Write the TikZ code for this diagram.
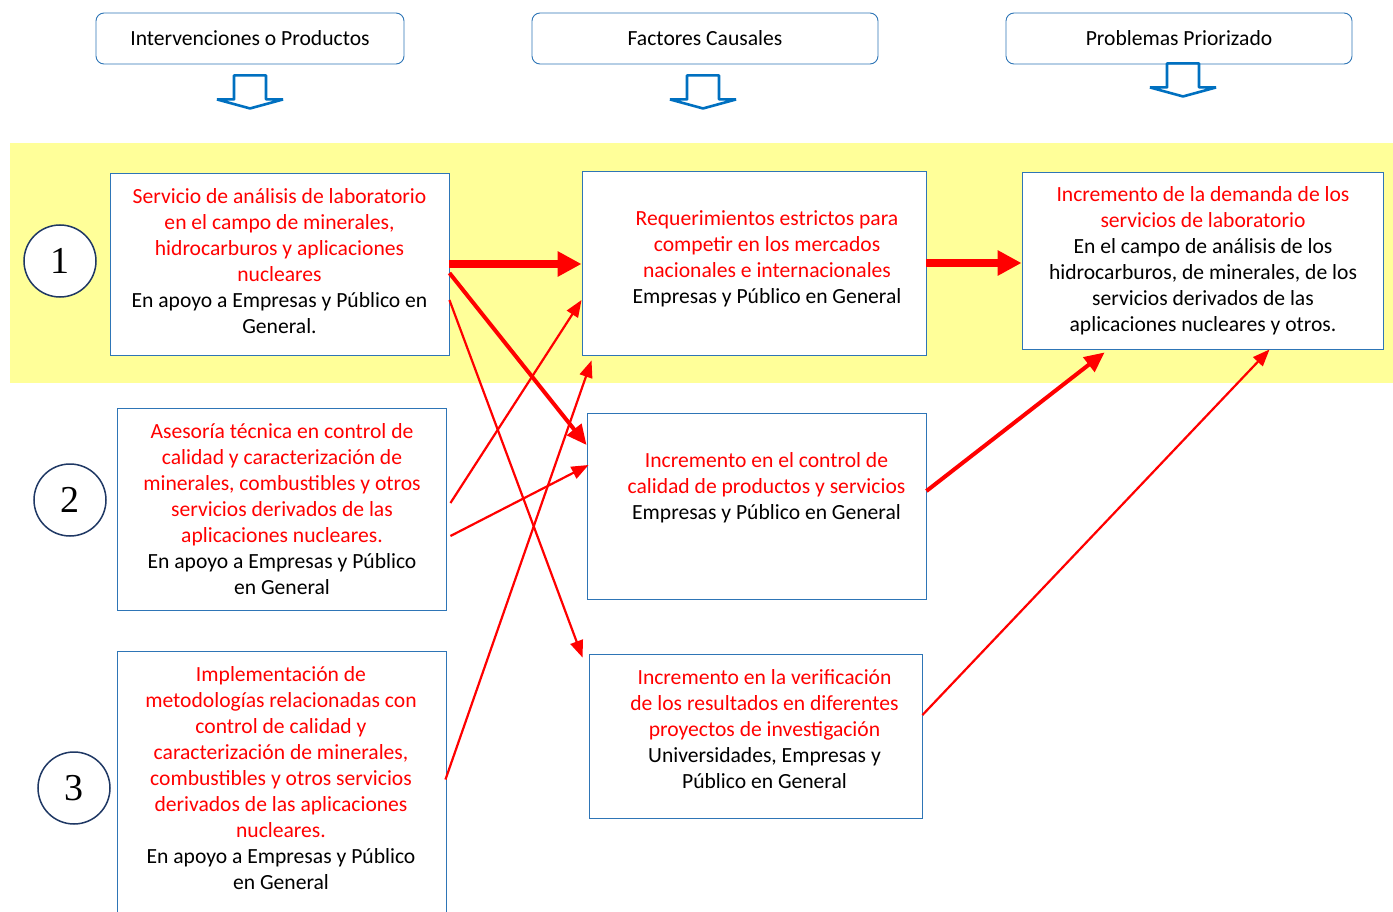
\documentclass[tikz,border=0pt]{standalone}
\usepackage{fontspec}
\setmainfont{Carlito}
\newfontfamily\numfont{Liberation Serif}
\usepackage{tikz}
\usetikzlibrary{calc,arrows.meta}
\definecolor{bandyellow}{RGB}{255,255,153}
\definecolor{boxblue}{RGB}{46,117,182}
\definecolor{arrowblue}{RGB}{0,112,192}
\definecolor{ringblue}{RGB}{31,56,100}
\newcommand\bk{\color{black}}

\begin{document}
\begin{tikzpicture}[x=1pt,y=-1pt,
    headbox/.style={draw=boxblue,line width=0.9pt,rounded corners=8pt,fill=white,
      minimum width=#1,minimum height=51pt,font=\fontsize{21.6}{24}\selectfont},
    prodbox/.style={draw=boxblue,line width=0.9pt,fill=white,inner sep=0pt},
    txt/.style={align=center,text=red,font=\fontsize{21.6}{26}\selectfont},
    num/.style={circle,draw=ringblue,line width=1.5pt,fill=white,minimum size=72pt,
      font=\numfont\fontsize{38}{38}\selectfont},
    fat/.style={red,line width=8pt,-{Triangle[length=24pt,width=24pt]}},
    mid/.style={red,line width=4pt,-{Triangle[length=20pt,width=18pt]}},
    slim/.style={red,line width=2.2pt,-{Triangle[length=17pt,width=13pt]}}]
  \useasboundingbox (0,0) rectangle (1393,912);
  \clip (0,0) rectangle (1393,912);

  % yellow band
  \fill[bandyellow] (10,143) rectangle (1393,383);

  % column titles
  \node[headbox=308pt] (h1) at (250,38.5) {Intervenciones o Productos};
  \node[headbox=346pt] (h2) at (705,38.5) {Factores Causales};
  \node[headbox=346pt] (h3) at (1179,38.5) {Problemas Priorizado};
  \foreach \h/\dx/\dy in {h1/0/11,h2/-2/11,h3/4/-1}
    \draw[arrowblue,line width=2.6pt,line join=bevel]
      ($(\h.south)+(\dx-16,\dy)$) -- ++(32,0) -- ++(0,24) -- ++(17,0)
      -- ++(-33,9) -- ++(-33,-9) -- ++(17,0) -- cycle;

  % boxes
  \node[prodbox,minimum width=339pt,minimum height=182pt] (l1) at (279.5,264) {};
  \node[prodbox,minimum width=329pt,minimum height=202pt] (l2) at (281.5,509) {};
  \node[prodbox,minimum width=329pt,minimum height=308pt] (l3) at (281.5,805) {};
  \node[prodbox,minimum width=344pt,minimum height=184pt] (m1) at (754,263) {};
  \node[prodbox,minimum width=339pt,minimum height=186pt] (m2) at (756.5,506) {};
  \node[prodbox,minimum width=333pt,minimum height=164pt] (m3) at (755.5,736) {};
  \node[prodbox,minimum width=361pt,minimum height=177pt] (r1) at (1202.5,260.5) {};

  % texts
  \node[txt] (l1t) at (279.5,261) {Servicio de análisis de laboratorio\\en el campo de minerales,\\
    hidrocarburos y aplicaciones\\nucleares\\\bk En apoyo a Empresas y Público en\\\bk General.};
  \node[txt] (l2t) at (282,509) {Asesoría técnica en control de\\calidad y caracterización de\\
    minerales, combustibles y otros\\servicios derivados de las\\aplicaciones nucleares.\\
    \bk En apoyo a Empresas y Público\\\bk en General};
  \node[txt] (l3t) at (281,778) {Implementación de\\metodologías relacionadas con\\control de calidad y\\
    caracterización de minerales,\\combustibles y otros servicios\\derivados de las aplicaciones\\
    nucleares.\\\bk En apoyo a Empresas y Público\\\bk en General};
  \node[txt] (m1t) at (767,259) {Requerimientos estrictos para\\competir en los mercados\\
    nacionales e internacionales\\\bk Empresas y Público en General};
  \node[txt] (m2t) at (766.5,488) {Incremento en el control de\\calidad de productos y servicios\\
    \bk Empresas y Público en General};
  \node[txt] (m3t) at (764.5,729) {Incremento en la verificación\\de los resultados en diferentes\\
    proyectos de investigación\\\bk Universidades, Empresas y\\\bk Público en General};
  \node[txt] (r1t) at (1203,261) {Incremento de la demanda de los\\servicios de laboratorio\\
    \bk En el campo de análisis de los\\\bk hidrocarburos, de minerales, de los\\
    \bk servicios derivados de las\\\bk aplicaciones nucleares y otros.};

  % links
  \draw[fat] (l1.east) -- (l1.east -| m1.west);
  \draw[fat] (m1.east) -- (m1.east -| r1.west);
  \draw[mid] ($(l1.east)+(0,9)$) -- ($(m2.west)+(0,-61)$);
  \draw[mid] ($(m2.east)+(0,-15)$) -- ($(r1.south west)+(83,3)$);
  \draw[slim] ($(l1.east)+(0,36)$) -- ($(m3.north west)+(-6,4)$);
  \draw[slim] ($(l2.east)+(4,-6)$) -- ($(m1.west)+(0,37)$);
  \draw[slim] ($(l2.east)+(4,27)$) -- ($(m2.west)+(2,-41)$);
  \draw[slim] ($(l3.north east)+(-1,129)$) -- ($(m1.south west)+(10,5)$);
  \draw[slim] ($(m3.east)+(0,-21)$) -- ($(r1.south west)+(248,0)$);

  % numbers
  \node[num] (n1) at (60,261) {1};
  \node[num] (n2) at (70,500) {2};
  \node[num] (n3) at (74,788) {3};
\end{tikzpicture}
\end{document}
